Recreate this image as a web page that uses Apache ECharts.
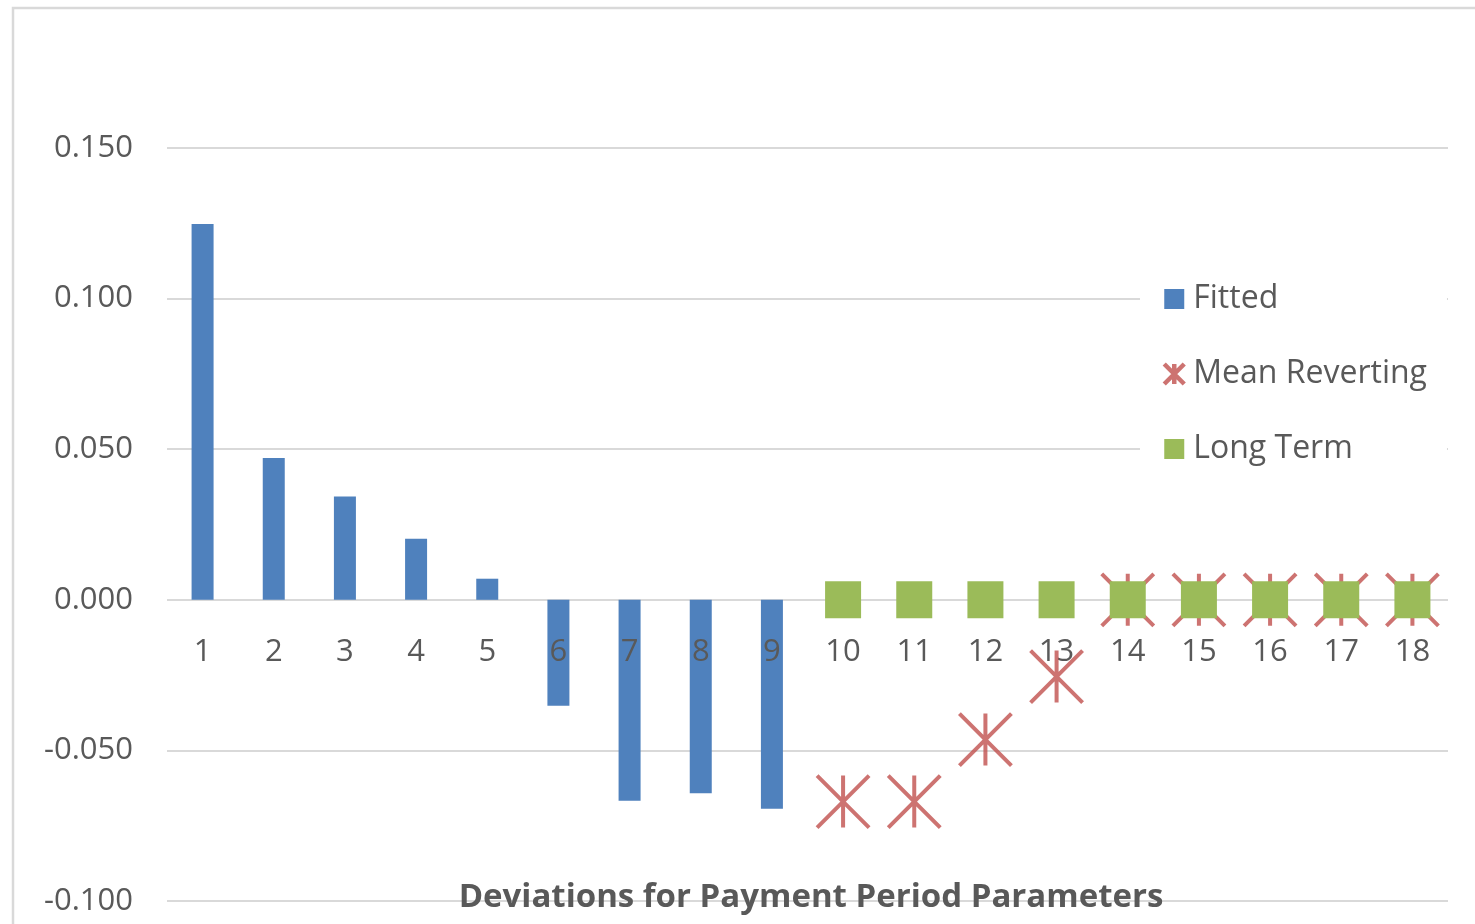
<!DOCTYPE html>
<html>
<head>
<meta charset="utf-8">
<script src="https://cdn.jsdelivr.net/npm/echarts@6/dist/echarts.min.js"></script>
<style>
    html, body { margin: 0; padding: 0; background: #fff; }
    #chart { width: 1475px; height: 924px; }
</style>
</head>
<body>
<div id="chart"></div>
<script>

// Chart data
// ------------------------------

var periods = ['1', '2', '3', '4', '5', '6', '7', '8', '9', '10', '11', '12', '13', '14', '15', '16', '17', '18'];

var fitted = [0.1248, 0.0471, 0.0343, 0.0203, 0.0070, -0.0352, -0.0667, -0.0642, -0.0694,
    null, null, null, null, null, null, null, null, null];

var meanReverting = [null, null, null, null, null, null, null, null, null,
    -0.0670, -0.0670, -0.0464, -0.0255, 0, 0, 0, 0, 0];

var longTerm = [null, null, null, null, null, null, null, null, null,
    0, 0, 0, 0, 0, 0, 0, 0, 0];

var yTicks = { min: -0.1, max: 0.15, interval: 0.05 };


// Setup chart
// ------------------------------

var chart_element = document.getElementById('chart');
var chart = echarts.init(chart_element);

var font = '"Open Sans", "Noto Sans", sans-serif';
var textGray = '#595959';
var asterisk = 'path://M0,0L10,10M10,0L0,10M5,0L5,10';

chart.setOption({

    animation: false,
    color: ['#4f81bd', '#c0504d', '#9bbb59'],

    textStyle: {
        fontFamily: font
    },

    // Outer chart frame
    graphic: [{
        type: 'rect',
        silent: true,
        shape: { x: 13, y: 8, width: 1500, height: 1000 },
        style: { fill: 'none', stroke: '#d9d9d9', lineWidth: 2.5 }
    }],

    title: {
        text: 'Deviations for Payment Period Parameters',
        left: 806,
        top: 876,
        textAlign: 'center',
        textStyle: {
            fontFamily: font,
            fontSize: 33,
            fontWeight: 'bold',
            color: textGray
        }
    },

    legend: {
        orient: 'vertical',
        left: 1140,
        top: 273,
        padding: [10, 20, 10, 22],
        backgroundColor: '#fff',
        itemGap: 43,
        itemWidth: 20,
        itemHeight: 20,
        textStyle: {
            fontFamily: font,
            fontSize: 32,
            lineHeight: 30,
            color: textGray,
            padding: [0, 0, 0, 4]
        },
        data: [
            { name: 'Fitted', icon: 'rect' },
            { name: 'Mean Reverting', icon: asterisk, itemStyle: { borderWidth: 4.5 } },
            { name: 'Long Term', icon: 'rect' }
        ]
    },

    grid: {
        left: 167,
        right: 27,
        top: 148,
        bottom: 23,
        outerBoundsMode: 'none',
        containLabel: false
    },

    // labels sit just under the zero line (axis kept at the bottom, labels pulled up)
    xAxis: {
        type: 'category',
        data: periods,
        z: 3,
        axisLine: { show: false, onZero: false },
        axisTick: { show: false },
        axisLabel: {
            margin: -264,
            fontFamily: font,
            fontSize: 31,
            color: textGray
        }
    },

    yAxis: {
        type: 'value',
        min: yTicks.min,
        max: yTicks.max,
        interval: yTicks.interval,
        axisLine: { show: false },
        axisTick: { show: false },
        splitLine: { lineStyle: { color: '#d9d9d9', width: 2 } },
        axisLabel: {
            margin: 34,
            fontFamily: font,
            fontSize: 31,
            color: textGray,
            formatter: function (v) { return v.toFixed(3); }
        }
    },

    series: [{
        name: 'Fitted',
        type: 'bar',
        barWidth: 22,
        data: fitted,
        itemStyle: { color: '#4f81bd' }
    }, {
        name: 'Mean Reverting',
        type: 'scatter',
        z: 4,
        symbol: asterisk,
        symbolSize: 52,
        data: meanReverting,
        itemStyle: { color: '#c0504d', borderColor: '#c0504d', borderWidth: 4 }
    }, {
        name: 'Long Term',
        type: 'scatter',
        z: 5,
        symbol: 'rect',
        symbolSize: [36, 37],
        data: longTerm,
        itemStyle: { color: '#9bbb59', opacity: 1 }
    }]
});

</script>
</body>
</html>
